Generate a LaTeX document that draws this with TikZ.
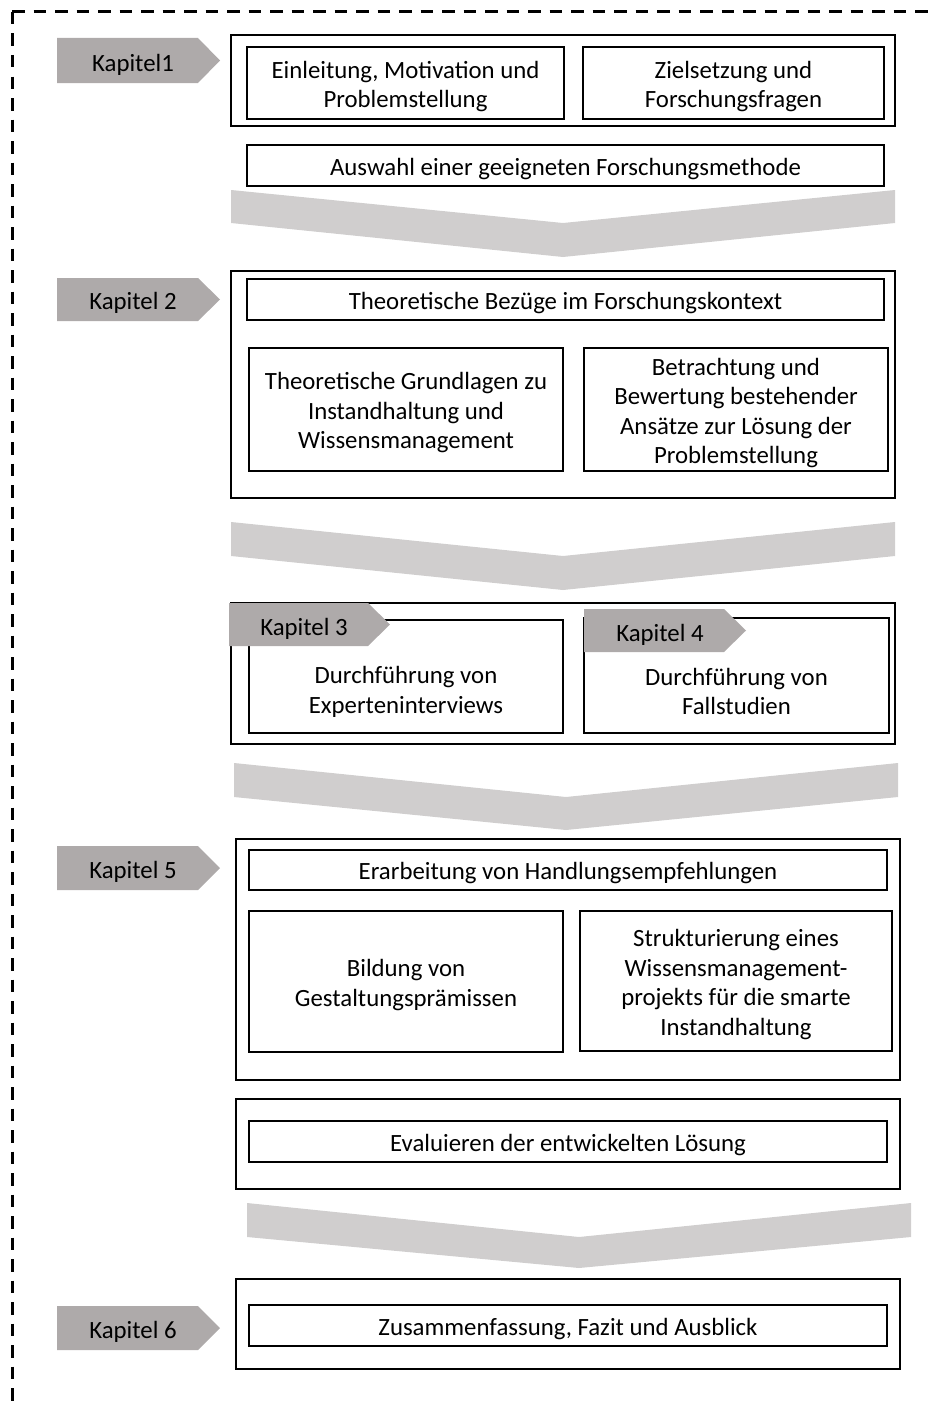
\documentclass[tikz,border=0pt]{standalone}
\usepackage{fontspec}
\setmainfont{Carlito}
\definecolor{kapgray}{HTML}{AEAAAA}
\definecolor{chevgray}{HTML}{D0CECE}
\newcommand{\fs}{\fontsize{24.8}{29.5}\selectfont}
\newcommand{\kapshape}[4]{\fill[kapgray] (#1,#2) -- ({#3-22},#2) -- (#3,{(#2+#4)/2}) -- ({#3-22},#4) -- (#1,#4) -- cycle;}
\newcommand{\chevshape}[5]{\fill[chevgray] (#1,#3) -- ({(#1+#2)/2},#4) -- (#2,#3) -- (#2,#4) -- ({(#1+#2)/2},#5) -- (#1,#4) -- cycle;}
\begin{document}
\begin{tikzpicture}[x=1pt,y=-1pt,
  lbl/.style={font=\fs, inner sep=0pt, align=center, yshift=-3.5pt},
  box/.style={draw, line width=1.7pt, inner sep=0pt},
  boxt/.style={box, label={[lbl]center:#1}},
  frame/.style={draw, line width=1.8pt, inner sep=0pt},
  border/.style={line width=3pt, dash pattern=on 12.5pt off 9pt}]
\useasboundingbox (0,0) rectangle (936,1405);
% dashed border
\draw[border] (12,12) -- (936,12);
\draw[border] (12,12) -- (12,1405);

% Kapitel 1
\kapshape{57}{38}{220}{83}
\node[lbl] (k1) at (133,61) {Kapitel1};
\node[frame, minimum width=664pt, minimum height=91pt] (f1) at (563,80.5) {};
\node[boxt={Einleitung, Motivation und\\Problemstellung}, minimum width=317pt, minimum height=72pt] (einl) at (405.5,83) {};
\node[boxt={Zielsetzung und\\Forschungsfragen}, minimum width=301pt, minimum height=72pt] (ziel) at (733.5,83) {};
\node[boxt={Auswahl einer geeigneten Forschungsmethode}, minimum width=637pt, minimum height=41pt] (ausw) at (565.5,165.5) {};
\chevshape{231}{895}{190}{223}{257}

% Kapitel 2
\kapshape{57}{278}{220}{321}
\node[lbl] (k2) at (133,299) {Kapitel 2};
\node[frame, minimum width=664pt, minimum height=227pt] (f2) at (563,384.5) {};
\node[boxt={Theoretische Bezüge im Forschungskontext}, minimum width=637pt, minimum height=41pt] (bezu) at (565.5,299.5) {};
\node[boxt={Theoretische Grundlagen zu\\Instandhaltung und\\Wissensmanagement}, minimum width=314pt, minimum height=123pt] (grund) at (406,409.5) {};
\node[boxt={Betrachtung und\\Bewertung bestehender\\Ansätze zur Lösung der\\Problemstellung}, minimum width=304pt, minimum height=123pt] (betr) at (736,409.5) {};
\chevshape{231}{895}{522}{556}{590}

% Kapitel 3 / 4
\node[frame, minimum width=664pt, minimum height=141pt] (f3) at (563,673.5) {};
\node[box, minimum width=314pt, minimum height=113pt] (expe) at (406,676.5) {};
\node[lbl] (expet) at (406,688.5) {Durchführung von\\Experteninterviews};
\node[box, minimum width=305pt, minimum height=115pt] (fall) at (736.5,675.5) {};
\node[lbl] (fallt) at (736.5,688) {Durchführung von\\Fallstudien};
\kapshape{229}{603}{390}{646}
\node[lbl] (k3) at (304,625) {Kapitel 3};
\kapshape{584}{609}{746}{652}
\node[lbl] (k4) at (660,631) {Kapitel 4};
\chevshape{234}{898}{763}{797}{830}

% Kapitel 5
\kapshape{57}{846}{220}{890}
\node[lbl] (k5) at (133,868) {Kapitel 5};
\node[frame, minimum width=664pt, minimum height=241pt] (f5) at (568,959.5) {};
\node[boxt={Erarbeitung von Handlungsempfehlungen}, minimum width=638pt, minimum height=40pt] (erar) at (568,870) {};
\node[boxt={Bildung von\\Gestaltungsprämissen}, minimum width=314pt, minimum height=141pt] (bild) at (406,981.5) {};
\node[boxt={Strukturierung eines\\Wissensmanagement-\\projekts für die smarte\\Instandhaltung}, minimum width=312pt, minimum height=140pt] (stru) at (736,981) {};
\node[frame, minimum width=664pt, minimum height=90pt] (f6) at (568,1144) {};
\node[boxt={Evaluieren der entwickelten Lösung}, minimum width=638pt, minimum height=41pt] (eval) at (568,1141.5) {};
\chevshape{247}{911}{1203}{1237}{1268}

% Kapitel 6
\kapshape{57}{1306}{220}{1350}
\node[lbl] (k6) at (133,1328) {Kapitel 6};
\node[frame, minimum width=664pt, minimum height=90pt] (f7) at (568,1324) {};
\node[boxt={Zusammenfassung, Fazit und Ausblick}, minimum width=638pt, minimum height=41pt] (zusa) at (568,1325.5) {};
\end{tikzpicture}
\end{document}
